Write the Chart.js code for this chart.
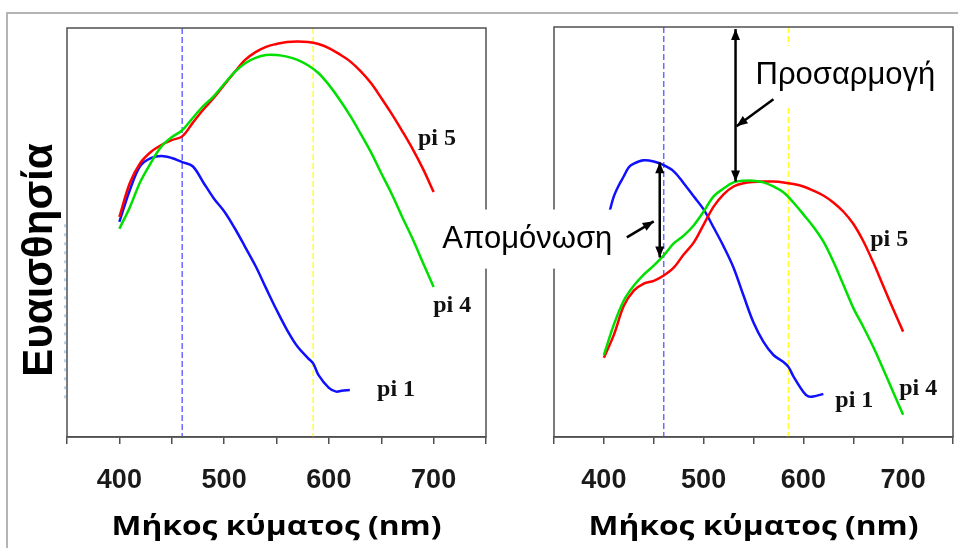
<!DOCTYPE html>
<html><head><meta charset="utf-8">
<script src="https://cdn.jsdelivr.net/npm/chart.js"></script>
<style>
html,body{margin:0;padding:0;background:#fff;}
#wrap{position:relative;width:958px;height:548px;overflow:hidden;background:#fff;}
#frame{position:absolute;left:6px;top:12px;width:1000px;height:600px;border-left:2px solid #b4b4b4;border-top:2px solid #b4b4b4;}
#c1{position:absolute;left:0;top:0;}
#c2{position:absolute;left:400px;top:0;}
</style></head><body>
<div id="wrap"><div id="frame"></div>
<canvas id="c1" width="520" height="548"></canvas>
<canvas id="c2" width="587" height="548"></canvas></div>
<script>
// ---- data (wavelength in nm, relative sensitivity 0-100) ----
const xTicks = [400, 500, 600, 700];
const refLines = [460, 585];

const leftWl = [400,410,420,430,440,450,460,470,480,490,500,510,520,530,540,550,560,570,580,590,600,610,620,630,640,650,660,670,680,690,700];
const leftRed = [53.8,62.1,67.0,69.7,71.4,72.6,73.5,76.8,80.0,82.9,86.1,89.2,92.2,94.1,95.4,96.1,96.6,96.7,96.6,96.1,95.1,93.6,91.9,89.5,86.6,82.9,79.0,74.8,70.4,65.5,59.9];
const leftGreen = [50.9,56.2,62.4,67.0,71.0,73.3,75.0,78.0,80.9,83.3,86.3,89.2,91.4,92.7,93.4,93.4,93.0,92.2,90.9,89.0,86.1,82.6,78.7,74.3,69.7,64.5,59.4,53.8,48.4,42.5,36.7];
const leftBlueWl = [400,410,420,430,440,450,460,470,480,490,500,510,520,530,540,550,560,570,580,585,590,600,607,612,620];
const leftBlue = [52.6,60.4,66.3,68.2,68.7,68.2,67.2,66.2,62.3,58.4,55.2,51.1,46.5,41.8,36.4,31.1,26.2,22.1,19.3,18.0,15.2,12.0,11.1,11.3,11.5];

const rightWl = leftWl;
const rightRed = [19.3,24.9,32.0,35.7,37.4,38.1,39.4,41.3,44.5,47.4,51.8,56.2,59.2,61.1,61.9,62.2,62.3,62.3,62.1,61.7,61.1,60.1,58.9,57.2,55.0,52.0,47.8,42.6,36.9,31.2,25.7];
const rightGreen = [20.0,27.4,33.3,36.9,39.6,41.8,44.3,47.2,49.1,51.6,55.0,58.7,60.6,62.1,62.5,62.5,62.1,61.1,59.7,57.2,54.3,51.3,47.7,42.8,37.2,31.5,26.9,22.0,16.6,11.0,5.4];
const rightBlueWl = [406,410,415,420,425,430,440,450,460,470,480,490,500,510,520,530,540,550,560,570,580,585,590,600,605,610,620];
const rightBlue = [55.3,58.7,61.4,63.6,65.8,66.7,67.5,67.2,66.3,64.8,61.9,58.7,55.5,51.1,46.5,41.3,34.5,27.9,23.2,20.0,18.3,17.1,14.8,11.0,9.9,9.9,10.5];

const seriesNames = ['pi 5', 'pi 4', 'pi 1'];
const leftLabelPos = [[685, 71.4], [699.6, 30.6], [646, 10.0]];
const rightLabelPos = [[667, 46.5], [696, 10.3], [632, 7.3]];

const yTitle = 'Ευαισθησία';
const xTitle = 'Μήκος κύματος (nm)';
const notes = [{text: 'Προσαρμογή', x: 552, y: 86.1}, {text: 'Απομόνωση', x: 238, y: 46.2}];
const arrows = [
  {x1: 532, y1: 99.5, x2: 532, y2: 62.3, both: true},
  {x1: 456, y1: 67.0, x2: 456, y2: 43.8, both: true},
  {x1: 570, y1: 82.4, x2: 533, y2: 75.8, both: false},
  {x1: 423, y1: 48.7, x2: 450, y2: 52.6, both: false}
];

// ---- helpers ----
const pts = (xs, ys) => xs.map((x, i) => ({x: x, y: ys[i]}));
const line = (data, color) => ({data: data, borderColor: color, borderWidth: 2.5, pointRadius: 0, tension: 0.35, fill: false});

function head(ctx, x1, y1, x2, y2) {
  const a = Math.atan2(y2 - y1, x2 - x1), L = 11, W = 4.5;
  ctx.beginPath();
  ctx.moveTo(x2, y2);
  ctx.lineTo(x2 - L * Math.cos(a) + W * Math.sin(a), y2 - L * Math.sin(a) - W * Math.cos(a));
  ctx.lineTo(x2 - L * Math.cos(a) - W * Math.sin(a), y2 - L * Math.sin(a) + W * Math.cos(a));
  ctx.closePath();
  ctx.fill();
}

function stretchedText(ctx, text, cx, baseline, targetW) {
  const w = ctx.measureText(text).width;
  const k = targetW / w;
  ctx.save();
  ctx.translate(cx, baseline);
  ctx.scale(k, 1);
  ctx.textAlign = 'center';
  ctx.fillText(text, 0, 0);
  ctx.restore();
}

function makePlugin(labelPos, isLeft) {
  return {
    id: 'deco',
    beforeDatasetsDraw(chart) {
      const {ctx, chartArea: a, scales: {x}} = chart;
      ctx.save();
      ctx.lineWidth = 1.5;
      ctx.setLineDash([6, 3]);
      const cols = ['#6b6bff', '#ffff30'];
      refLines.forEach((v, i) => {
        const px = x.getPixelForValue(v);
        ctx.strokeStyle = cols[i];
        ctx.beginPath(); ctx.moveTo(px, a.top); ctx.lineTo(px, a.bottom); ctx.stroke();
      });
      ctx.restore();
    },
    afterDatasetsDraw(chart) {
      const {ctx, chartArea: a, scales: {x, y}} = chart;
      ctx.save();
      ctx.strokeStyle = '#505050';
      ctx.lineWidth = 1.5;
      ctx.strokeRect(a.left, a.top, a.right - a.left, a.bottom - a.top);
      // x axis title
      ctx.fillStyle = '#000';
      ctx.font = 'bold 26px "Open Sans"';
      ctx.textBaseline = 'alphabetic';
      stretchedText(ctx, xTitle, (a.left + a.right) / 2, 535, 330);
      // series labels
      ctx.fillStyle = '#111';
      ctx.font = 'bold 24px "Liberation Serif"';
      ctx.textAlign = 'left';
      seriesNames.forEach((t, i) => ctx.fillText(t, x.getPixelForValue(labelPos[i][0]), y.getPixelForValue(labelPos[i][1])));
      if (isLeft) {
        ctx.save();
        ctx.translate(52, 260);
        ctx.rotate(-Math.PI / 2);
        ctx.font = 'bold 42px "Liberation Sans"';
        ctx.textAlign = 'center';
        ctx.fillStyle = '#000';
        ctx.fillText(yTitle, 0, 0);
        ctx.restore();
        ctx.strokeStyle = '#9cc8ea';
        ctx.lineWidth = 1.5;
        ctx.setLineDash([3, 6]);
        ctx.beginPath(); ctx.moveTo(a.left - 2, y.getPixelForValue(52)); ctx.lineTo(a.left - 2, y.getPixelForValue(9)); ctx.stroke();
        ctx.setLineDash([]);
      } else {
        ctx.font = '31px "Liberation Sans"';
        ctx.textAlign = 'left';
        notes.forEach(n => {
          const px = x.getPixelForValue(n.x), py = y.getPixelForValue(n.y);
          const w = ctx.measureText(n.text).width;
          ctx.fillStyle = '#fff';
          ctx.fillRect(px - 9, py - 38, w + 18, 59);
          ctx.fillStyle = '#000';
          ctx.fillText(n.text, px, py);
        });
        ctx.strokeStyle = '#000';
        ctx.fillStyle = '#000';
        ctx.lineWidth = 2.5;
        arrows.forEach(r => {
          const x1 = x.getPixelForValue(r.x1), y1 = y.getPixelForValue(r.y1);
          const x2 = x.getPixelForValue(r.x2), y2 = y.getPixelForValue(r.y2);
          ctx.beginPath(); ctx.moveTo(x1, y1); ctx.lineTo(x2, y2); ctx.stroke();
          head(ctx, x1, y1, x2, y2);
          if (r.both) head(ctx, x2, y2, x1, y1);
        });
      }
      ctx.restore();
    }
  };
}

function makeChart(id, datasets, padding, labelPos, isLeft) {
  return new Chart(document.getElementById(id), {
    type: 'line',
    data: {datasets: datasets},
    options: {
      responsive: false, animation: false,
      layout: {padding: padding},
      plugins: {legend: {display: false}, tooltip: {enabled: false}},
      scales: {
        x: {
          type: 'linear', min: 350, max: 750,
          afterFit: s => { s.height = 111; },
          ticks: {stepSize: 50, padding: 20, maxRotation: 0, minRotation: 0, autoSkip: false, color: '#1a1a1a',
                  font: {family: '"Liberation Sans"', size: 27, weight: 'bold'},
                  callback: v => xTicks.includes(v) ? String(v) : ''},
          grid: {drawOnChartArea: false, drawTicks: true, tickLength: 7, color: '#505050', lineWidth: 1.5},
          border: {display: true, color: '#505050', width: 1.5},
          title: {display: false}
        },
        y: {type: 'linear', min: 0, max: 100, display: false}
      }
    },
    plugins: [makePlugin(labelPos, isLeft)]
  });
}

makeChart('c1', [
  line(pts(leftWl, leftGreen), '#00e000'),
  line(pts(leftWl, leftRed), '#ff0000'),
  line(pts(leftBlueWl, leftBlue), '#1010ff')
], {left: 67, top: 28, right: 34, bottom: 0}, leftLabelPos, true);

makeChart('c2', [
  line(pts(rightWl, rightGreen), '#00e000'),
  line(pts(rightWl, rightRed), '#ff0000'),
  line(pts(rightBlueWl, rightBlue), '#1010ff')
], {left: 154, top: 27, right: 34, bottom: 0}, rightLabelPos, false);
</script>
</body></html>
